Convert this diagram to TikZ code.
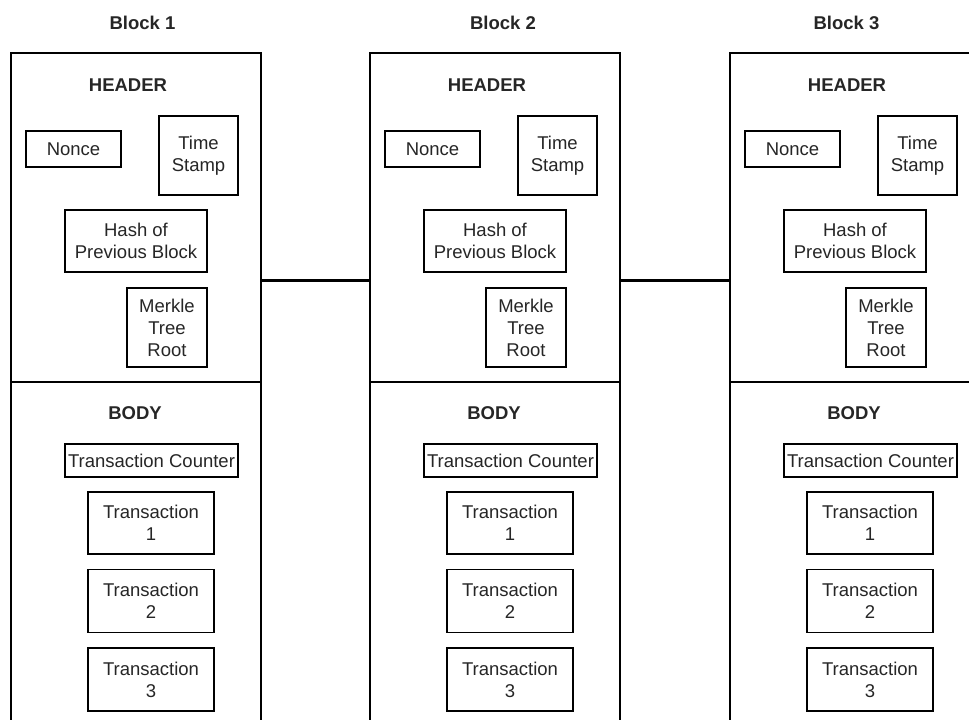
\documentclass[tikz,border=0pt]{standalone}
\usepackage{fontspec}
\setmainfont{Liberation Sans}
\begin{document}
\begin{tikzpicture}[x=1pt,y=-1pt,
  every node/.style={text=black!85, font=\fontsize{18.5}{22}\selectfont},
  box/.style={draw=black, line width=1.3pt, inner sep=0pt, align=center},
  region/.style={draw=black, line width=1.5pt, inner sep=0pt},
  title/.style={font=\fontsize{18.5}{22}\selectfont\bfseries},
  link/.style={draw=black, line width=3pt}]
\useasboundingbox (0,0) rectangle (969,720);
\clip (0,0) rectangle (969,720);
\fill[white] (0,0) rectangle (969,720);
\node[title] (lbl1) at (142.5,23) {Block 1};
\node[title] (lbl2) at (503,23) {Block 2};
\node[title] (lbl3) at (846.5,23) {Block 3};
\foreach \i/\dx in {1/0,2/359,3/719}{
  \begin{scope}[xshift=\dx pt]
    \node[region, minimum width=250pt, minimum height=329pt] (hdr\i) at (136,217.5) {};
    \node[region, minimum width=250pt, minimum height=348pt] (body\i) at (136,556) {};
    \node[title] (htitle\i) at (128,85) {HEADER};
    \node[box, minimum width=95pt, minimum height=36pt] (nonce\i) at (73.5,149) {Nonce};
    \node[box, minimum width=79pt, minimum height=79pt] (ts\i) at (198.5,155.5) {Time\\Stamp};
    \node[box, minimum width=142pt, minimum height=62pt] (hash\i) at (136,241) {Hash of\\Previous Block};
    \node[box, minimum width=80pt, minimum height=79pt] (mk\i) at (167,327.5) {Merkle\\Tree\\Root};
    \node[title] (btitle\i) at (135,413) {BODY};
    \node[box, minimum width=173pt, minimum height=33pt] (tc\i) at (151.5,460.5) {Transaction Counter};
    \node[box, minimum width=126pt, minimum height=62pt] (tx1\i) at (151,523) {Transaction\\1};
    \node[box, minimum width=126pt, minimum height=63pt] (tx2\i) at (151,601) {Transaction\\2};
    \node[box, minimum width=126pt, minimum height=63pt] (tx3\i) at (151,679.5) {Transaction\\3};
  \end{scope}
}
\coordinate (c1) at (261,280);
\coordinate (c2) at (370,280);
\coordinate (c3) at (620,280);
\coordinate (c4) at (730,280);
\draw[link] (hdr1.east |- c1) -- (hdr2.west |- c2);
\draw[link] (hdr2.east |- c3) -- (hdr3.west |- c4);
\end{tikzpicture}
\end{document}
